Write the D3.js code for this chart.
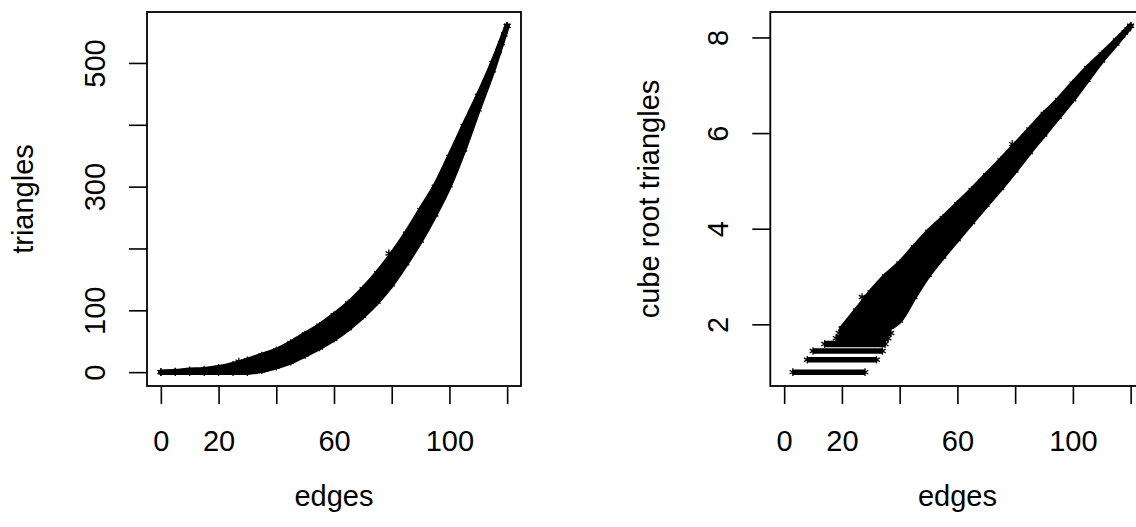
<!DOCTYPE html>
<html>
<head>
<meta charset="utf-8">
<script src="https://cdn.jsdelivr.net/npm/d3@7"></script>
<style>
  html, body { margin: 0; padding: 0; background: #fff; }
  #chart text { font-family: "Liberation Sans", Arial, Helvetica, sans-serif; fill: #000; }
</style>
</head>
<body>
<div id="chart"></div>
<script>
// edge counts sampled every 5, with the lowest / highest triangle counts seen there
const edgeSteps = [0, 5, 10, 15, 20, 25, 30, 35, 40, 45, 50, 55, 60, 65, 70, 75, 80, 85, 90, 95, 100, 105, 110, 115, 120];
const triMin = [0, 0, 0, 0, 0, 0, 0, 3, 9, 17, 28, 40, 54, 71, 91, 114, 142, 176, 213, 255, 302, 360, 425, 488, 560];
const triMax = [0, 1, 3, 4, 7, 12, 19, 27, 35, 47, 61, 75, 92, 111, 134, 160, 190, 224, 262, 300, 348, 398, 447, 500, 560];

// small triangle counts that show up as separate rows on the cube root scale
const stripeTri = [1, 2, 3, 4, 5, 6];
const stripeFrom = [3, 8, 10, 14, 18, 19];
const stripeTo = [28, 32, 34, 35, 36, 37];

// single stars standing out of the band
const loneEdges = [27, 79, 117, 118, 119, 120];
const loneTri = [17, 192, 519, 532, 546, 560];

// axis ticks (R drops the labels that would overlap)
const xTicks = [0, 20, 40, 60, 80, 100, 120];
const xTickLabels = ['0', '20', '', '60', '', '100', ''];
const triTicks = [0, 100, 200, 300, 400, 500];
const triTickLabels = ['0', '100', '', '300', '', '500'];
const rootTicks = [2, 4, 6, 8];
const rootTickLabels = ['2', '4', '6', '8'];

document.addEventListener('DOMContentLoaded', () => {
    const width = 1136;
    const height = 527;
    const top = 12;
    const bottom = 386;
    const fontSize = 29;

    const svg = d3.select('#chart').append('svg')
        .attr('width', width)
        .attr('height', height);

    svg.append('rect').attr('width', width).attr('height', height).attr('fill', '#fff');

    // asterisk like R's pch = "*"
    const r = 3.8;
    const c30 = Math.cos(Math.PI / 6);
    const starD = `M0,${-r}L0,${r}M${-r * c30},${-r / 2}L${r * c30},${r / 2}M${-r * c30},${r / 2}L${r * c30},${-r / 2}`;

    function drawStars(g, pts, x, y) {
        g.selectAll(null)
            .data(pts)
            .enter().append('path')
            .attr('d', starD)
            .attr('transform', d => `translate(${x(d[0])},${y(d[1])})`)
            .attr('fill', 'none')
            .attr('stroke', '#000')
            .attr('stroke-width', 1.3);
    }

    function drawFrame(g, x0, x1, x, y, yTicks, yLabels, yTitle, titleOff) {
        // x axis
        const ax = g.append('g')
            .attr('transform', `translate(0,${bottom})`)
            .call(d3.axisBottom(x).tickValues(xTicks).tickSize(18)
                .tickFormat((d, i) => xTickLabels[i]));
        ax.select('.domain').remove();
        ax.selectAll('line').attr('stroke', '#000').attr('stroke-width', 1.6);
        ax.selectAll('text')
            .attr('y', 65).attr('dy', null)
            .style('font-size', fontSize + 'px');

        // y axis, labels parallel to the axis
        const ay = g.append('g')
            .attr('transform', `translate(${x0},0)`)
            .call(d3.axisLeft(y).tickValues(yTicks).tickSize(18)
                .tickFormat((d, i) => yLabels[i]));
        ay.select('.domain').remove();
        ay.selectAll('line').attr('stroke', '#000').attr('stroke-width', 1.6);
        ay.selectAll('text')
            .attr('x', 0).attr('dy', null)
            .attr('text-anchor', 'middle')
            .attr('transform', 'translate(-42,0) rotate(-90)')
            .style('font-size', fontSize + 'px');

        // box
        g.append('rect')
            .attr('x', x0).attr('y', top)
            .attr('width', x1 - x0).attr('height', bottom - top)
            .attr('fill', 'none')
            .attr('stroke', '#000')
            .attr('stroke-width', 1.8);

        // titles
        g.append('text')
            .attr('x', (x0 + x1) / 2).attr('y', 506)
            .attr('text-anchor', 'middle')
            .style('font-size', fontSize + 'px')
            .text('edges');
        g.append('text')
            .attr('transform', `translate(${x0 - titleOff},${(top + bottom) / 2}) rotate(-90)`)
            .attr('text-anchor', 'middle')
            .style('font-size', fontSize + 'px')
            .text(yTitle);
    }

    function drawBand(g, rows, x, y) {
        g.append('path')
            .datum(rows)
            .attr('d', d3.area()
                .x(d => x(d.e))
                .y0(d => y(d.lo))
                .y1(d => y(d.hi))
                .curve(d3.curveMonotoneX))
            .attr('fill', '#000')
            .attr('stroke', '#000')
            .attr('stroke-width', 5.5)
            .attr('stroke-linejoin', 'round');
    }

    // ---- left: triangles against edges
    const left = svg.append('g');
    const lx0 = 147, lx1 = 521;
    const xL = d3.scaleLinear().domain([-4.8, 124.8]).range([lx0, lx1]);
    const yL = d3.scaleLinear().domain([-22.4, 582.4]).range([bottom, top]);

    const bandL = edgeSteps.map((e, i) => ({ e, lo: triMin[i], hi: triMax[i] }));
    drawBand(left, bandL, xL, yL);

    const edgePtsL = [];
    bandL.forEach(d => {
        edgePtsL.push([d.e, d.lo]);
        edgePtsL.push([d.e, d.hi]);
    });
    loneEdges.forEach((e, i) => edgePtsL.push([e, loneTri[i]]));
    drawStars(left, edgePtsL, xL, yL);

    drawFrame(left, lx0, lx1, xL, yL, triTicks, triTickLabels, 'triangles', 114);

    // ---- right: cube root of triangles against edges
    const right = svg.append('g');
    const rx0 = 770.3, rx1 = 1144.5;
    const xR = d3.scaleLinear().domain([-4.8, 124.8]).range([rx0, rx1]);
    const yR = d3.scaleLinear().domain([0.7103, 8.5323]).range([bottom, top]);

    // rows for 1..6 triangles
    stripeTri.forEach((k, i) => {
        right.append('line')
            .attr('x1', xR(stripeFrom[i])).attr('x2', xR(stripeTo[i]))
            .attr('y1', yR(Math.cbrt(k))).attr('y2', yR(Math.cbrt(k)))
            .attr('stroke', '#000')
            .attr('stroke-width', k < 4 ? 5.5 : 6.5);
    });

    // the solid band from 7 triangles upwards
    const bandR = edgeSteps
        .map((e, i) => ({ e, lo: Math.cbrt(Math.max(triMin[i], 7)), hi: Math.cbrt(triMax[i]), top: triMax[i] }))
        .filter(d => d.top >= 7);
    drawBand(right, bandR, xR, yR);

    const edgePtsR = [];
    edgeSteps.forEach((e, i) => {
        if (triMin[i] >= 7) edgePtsR.push([e, Math.cbrt(triMin[i])]);
        if (triMax[i] >= 7) edgePtsR.push([e, Math.cbrt(triMax[i])]);
    });
    stripeTri.forEach((k, i) => {
        edgePtsR.push([stripeFrom[i], Math.cbrt(k)]);
        edgePtsR.push([stripeTo[i], Math.cbrt(k)]);
    });
    loneEdges.forEach((e, i) => edgePtsR.push([e, Math.cbrt(loneTri[i])]));
    drawStars(right, edgePtsR, xR, yR);

    drawFrame(right, rx0, rx1, xR, yR, rootTicks, rootTickLabels, 'cube root triangles', 111);
});
</script>
</body>
</html>
